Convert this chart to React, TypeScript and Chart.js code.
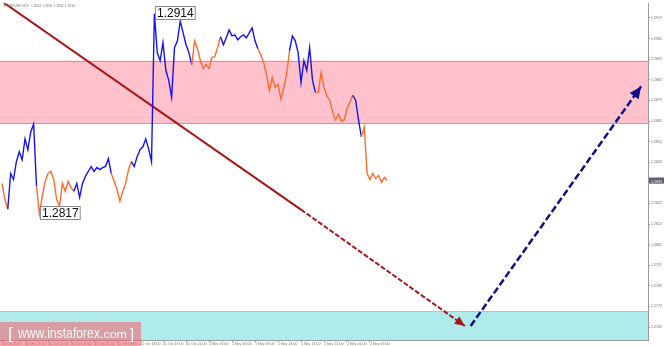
import React, { useEffect, useRef } from "react";
import { Chart, registerables } from "chart.js";

Chart.register(...registerables);

// ---- DATA ----
const symbolName = "GBPUSD,M15";
const headerQuote = [1.2834, 1.2836, 1.2832, 1.2834];

// 30-minute sampled closes, starting 30 Oct 2017 13:00
const closes = [
  1.28317, 1.2824, 1.28192, 1.28365, 1.28336, 1.28423, 1.28471, 1.28432, 1.28533, 1.2848,
  1.28567, 1.28605, 1.28303, 1.2817, 1.28254, 1.28327, 1.28365, 1.28375, 1.28336, 1.2824,
  1.28206, 1.28317, 1.28279, 1.28327, 1.28298, 1.28279, 1.28317, 1.2825, 1.28317, 1.28351,
  1.28375, 1.28399, 1.28375, 1.28394, 1.28384, 1.28394, 1.28399, 1.28437, 1.28365, 1.28327,
  1.28288, 1.2823, 1.28279, 1.28317, 1.28384, 1.28423, 1.28399, 1.28447, 1.2848, 1.28495,
  1.28533, 1.28485, 1.28423, 1.2914, 1.28952, 1.28913, 1.29, 1.28865, 1.28817, 1.28735,
  1.28976, 1.29009, 1.29105, 1.29048, 1.2899, 1.28952, 1.28894, 1.29009, 1.28971, 1.28913,
  1.28875, 1.28894, 1.28875, 1.28928, 1.28932, 1.28976, 1.29029, 1.2899, 1.29024, 1.29062,
  1.29033, 1.29038, 1.29014, 1.29029, 1.29038, 1.29024, 1.29048, 1.29072, 1.29009, 1.28971,
  1.28942, 1.28904, 1.28846, 1.28769, 1.28831, 1.28783, 1.28798, 1.28726, 1.28783, 1.28846,
  1.28961, 1.29033, 1.29009, 1.28952, 1.28807, 1.28913, 1.28865, 1.28976, 1.28817, 1.28759,
  1.28759, 1.28855, 1.28783, 1.2874, 1.28721, 1.28663, 1.28625, 1.28653, 1.2862, 1.28625,
  1.28678, 1.28711, 1.28745, 1.28721, 1.28625, 1.28543, 1.28591, 1.28365, 1.28336, 1.28365,
  1.28341, 1.28355, 1.28322, 1.28346, 1.28331,
];

// index ranges [start, end) of rising waves (drawn blue); the rest are falling waves
const risingWaves: [number, number][] = [
  [2, 12], [25, 38], [45, 66], [76, 89], [100, 109], [122, 125],
];

const timeLabels = [
  "30 Oct 2017", "30 Oct 17:00", "30 Oct 21:00", "31 Oct 01:00", "31 Oct 05:00",
  "31 Oct 09:00", "31 Oct 13:00", "31 Oct 17:00", "31 Oct 21:00", "1 Nov 01:00",
  "1 Nov 05:00", "1 Nov 09:00", "1 Nov 13:00", "1 Nov 17:00", "1 Nov 21:00",
  "2 Nov 01:00", "2 Nov 05:00",
];
const barsPerLabel = 8;

const priceTicks = [
  1.2762, 1.2772, 1.2782, 1.2792, 1.2802, 1.2812, 1.2822, 1.2832,
  1.2842, 1.2852, 1.2862, 1.2872, 1.2882, 1.2892, 1.2902, 1.2912,
];

const xRange = [-0.7, 224.7];
const priceRange = [1.27557, 1.29192];

const resistanceZone = [1.28606, 1.28913];
const supportZone = [1.27557, 1.27697];

const redForecastSolid = [[0, 1.292], [104, 1.2819]];
const redForecastDashed = [[104, 1.2819], [161, 1.27625]];
const blueForecastDashed = [[163, 1.27625], [222.3, 1.28788]];

// ---- STYLE ----
const UP_COLOR = "#1414f0";
const DOWN_COLOR = "#fb6c2c";
const RED_ARROW = "#a8161a";
const BLUE_ARROW = "#10108a";
const FONT = "'Liberation Sans', Arial, sans-serif";

const toPts = (a: number[][]) => a.map(([x, y]) => ({ x, y }));

const isRising = (i: number) => risingWaves.some(([s, e]) => i >= s && i < e);

function fitText(ctx: CanvasRenderingContext2D, text: string, x: number, yBase: number, width: number, font: string) {
  ctx.font = font;
  const w = ctx.measureText(text).width;
  ctx.save();
  ctx.translate(x, yBase);
  ctx.scale(width / w, 1);
  ctx.fillText(text, 0, 0);
  ctx.restore();
}

const zonesPlugin = {
  id: "zones",
  beforeDatasetsDraw(chart: any) {
    const { ctx, chartArea: a, scales } = chart;
    const y = scales.y;
    const draw = (lo: number, hi: number, fill: string, line: string, bottomLine: boolean) => {
      const yt = y.getPixelForValue(hi);
      const yb = y.getPixelForValue(lo);
      ctx.save();
      ctx.fillStyle = fill;
      ctx.fillRect(a.left, yt, a.right - a.left, yb - yt);
      ctx.strokeStyle = line;
      ctx.lineWidth = 1;
      ctx.beginPath();
      ctx.moveTo(a.left, Math.round(yt) + 0.5);
      ctx.lineTo(a.right, Math.round(yt) + 0.5);
      if (bottomLine) {
        ctx.moveTo(a.left, Math.round(yb) - 0.5);
        ctx.lineTo(a.right, Math.round(yb) - 0.5);
      }
      ctx.stroke();
      ctx.restore();
    };
    draw(resistanceZone[0], resistanceZone[1], "#ffc1cb", "#df8d96", true);
    draw(supportZone[0], supportZone[1], "#b0ebeb", "#8ed2d4", false);
  },
};

const arrowPlugin = {
  id: "arrowHeads",
  afterDatasetsDraw(chart: any) {
    const { ctx } = chart;
    const heads: [number, string, number, number][] = [
      [2, RED_ARROW, 10, 4.5],
      [3, BLUE_ARROW, 12, 5.5],
    ];
    heads.forEach(([di, color, len, half]) => {
      const meta = chart.getDatasetMeta(di);
      const pts = meta.data;
      const p1 = pts[pts.length - 2];
      const p2 = pts[pts.length - 1];
      const ang = Math.atan2(p2.y - p1.y, p2.x - p1.x);
      ctx.save();
      ctx.translate(p2.x, p2.y);
      ctx.rotate(ang);
      ctx.fillStyle = color;
      ctx.beginPath();
      ctx.moveTo(0, 0);
      ctx.lineTo(-len, -half);
      ctx.lineTo(-len, half);
      ctx.closePath();
      ctx.fill();
      ctx.restore();
    });
  },
};

const labelsPlugin = {
  id: "labels",
  afterDraw(chart: any) {
    const { ctx, chartArea: a, scales } = chart;
    const xs = scales.x;
    const ys = scales.y;

    // high / low price labels
    let hi = 0, lo = 0;
    closes.forEach((v, i) => {
      if (v > closes[hi]) hi = i;
      if (v < closes[lo]) lo = i;
    });
    const priceBox = (i: number) => {
      const px = xs.getPixelForValue(i);
      const py = ys.getPixelForValue(closes[i]);
      const text = closes[i].toFixed(4);
      ctx.save();
      ctx.font = `12px ${FONT}`;
      const w = ctx.measureText(text).width + 3;
      const h = 13;
      const bx = Math.round(px + 1) + 0.5;
      const by = Math.round(py - h / 2 - 1) + 0.5;
      ctx.fillStyle = "#ffffff";
      ctx.fillRect(bx, by, w, h);
      ctx.strokeStyle = "#8a8a8a";
      ctx.lineWidth = 1;
      ctx.strokeRect(bx, by, w, h);
      ctx.fillStyle = "#111";
      ctx.textBaseline = "middle";
      ctx.fillText(text, bx + 1.5, by + h / 2 + 0.5);
      ctx.restore();
    };
    priceBox(hi);
    priceBox(lo);

    // header
    ctx.save();
    ctx.fillStyle = "#7a7a7a";
    ctx.textBaseline = "alphabetic";
    fitText(ctx, `▼ ${symbolName}  ${headerQuote.map((v) => v.toFixed(4)).join(" ")}`, a.left + 3, 7, 72, `4px ${FONT}`);
    ctx.restore();

    // current price marker on the right axis
    const last = closes[closes.length - 1];
    const ly = ys.getPixelForValue(last);
    ctx.save();
    ctx.fillStyle = "#5a5f6a";
    ctx.fillRect(a.right + 1, ly - 3, 15, 6);
    ctx.fillStyle = "#ffffff";
    ctx.textBaseline = "middle";
    fitText(ctx, last.toFixed(4), a.right + 3, ly + 1.3, 11, `4px ${FONT}`);
    ctx.restore();

    // watermark
    ctx.save();
    ctx.fillStyle = "rgba(240,106,114,0.6)";
    ctx.fillRect(0, 322, 141, chart.height - 322);
    ctx.fillStyle = "#f6f6f6";
    ctx.textBaseline = "alphabetic";
    fitText(ctx, "[", 8, 339, 5, `17px ${FONT}`);
    fitText(ctx, "www.instaforex", 18, 337.5, 82, `15px ${FONT}`);
    fitText(ctx, ".com", 100, 337.5, 27, `11px ${FONT}`);
    fitText(ctx, "]", 130, 339, 4, `14px ${FONT}`);
    ctx.restore();
  },
};

export default function App() {
  const ref = useRef<HTMLCanvasElement | null>(null);

  useEffect(() => {
    document.body.style.margin = "0";
    const canvas = ref.current!;
    const chart = new Chart(canvas, {
      type: "line",
      data: {
        datasets: [
          {
            data: closes.map((v, i) => ({ x: i, y: v })),
            borderColor: DOWN_COLOR,
            borderWidth: 1.4,
            pointRadius: 0,
            tension: 0,
            segment: {
              borderColor: (c: any) => (isRising(c.p0DataIndex) ? UP_COLOR : DOWN_COLOR),
            },
          } as any,
          {
            data: toPts(redForecastSolid),
            borderColor: RED_ARROW,
            borderWidth: 2,
            pointRadius: 0,
          },
          {
            data: toPts(redForecastDashed),
            borderColor: RED_ARROW,
            borderWidth: 2,
            borderDash: [5, 2],
            pointRadius: 0,
          },
          {
            data: toPts(blueForecastDashed),
            borderColor: BLUE_ARROW,
            borderWidth: 2.5,
            borderDash: [7, 3],
            pointRadius: 0,
          },
        ],
      },
      options: {
        animation: false,
        responsive: false,
        devicePixelRatio: 1,
        parsing: false as any,
        layout: { padding: 0 },
        plugins: { legend: { display: false }, tooltip: { enabled: false } },
        scales: {
          x: {
            type: "linear",
            min: xRange[0],
            max: xRange[1],
            afterBuildTicks: (s: any) => {
              s.ticks = timeLabels.map((_, k) => ({ value: k * barsPerLabel }));
            },
            afterFit: (s: any) => {
              s.height = 6;
            },
            ticks: {
              autoSkip: false,
              maxRotation: 0,
              align: "start",
              padding: 0,
              color: "#6e6e6e",
              font: { size: 3.6, family: FONT },
              callback: (v: any) => timeLabels[Math.round(Number(v) / barsPerLabel)] ?? "",
            },
            grid: { display: true, drawOnChartArea: false, tickLength: 2, color: "#9a9a9a" },
            border: { display: true, color: "#9a9a9a", width: 1 },
          },
          y: {
            type: "linear",
            position: "right",
            min: priceRange[0],
            max: priceRange[1],
            afterBuildTicks: (s: any) => {
              s.ticks = priceTicks.map((v) => ({ value: v }));
            },
            afterFit: (s: any) => {
              s.width = 17;
            },
            ticks: {
              autoSkip: false,
              padding: 1,
              color: "#6e6e6e",
              font: { size: 3.6, family: FONT },
              callback: (v: any) => Number(v).toFixed(4),
            },
            grid: { display: true, drawOnChartArea: false, tickLength: 2, color: "#9a9a9a" },
            border: { display: true, color: "#9a9a9a", width: 1 },
          },
        },
      },
      plugins: [zonesPlugin, arrowPlugin, labelsPlugin],
    });
    return () => chart.destroy();
  }, []);

  return (
    <div style={{ width: 665, height: 346, background: "#fff" }}>
      <canvas ref={ref} width={665} height={346} style={{ display: "block" }} />
    </div>
  );
}
